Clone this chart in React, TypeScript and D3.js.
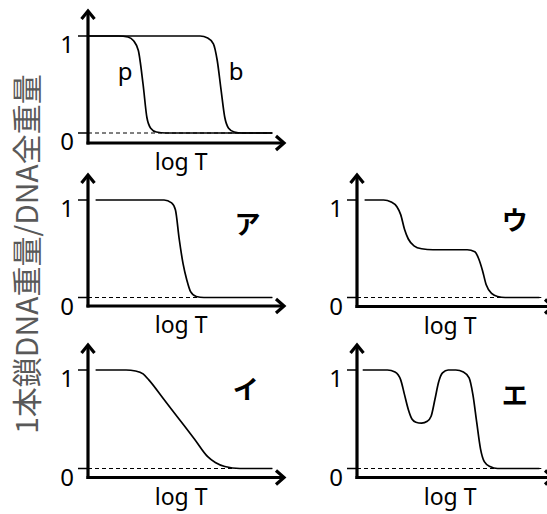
import React from 'react';
import * as d3 from 'd3';

const yTickValues = [0, 1];
const yTickLabels = ['0', '1'];
const xAxisLabel = 'log T';
const yAxisLabel = '1本鎖DNA重量/DNA全重量';
const panelTags = ['', 'ア', 'イ', 'ウ', 'エ'];
const curveNames = ['p', 'b'];

// points: [log T on the drawn axis (0-100), fraction of single strand DNA]
const curveP: [number, number][] = [
  [0, 1], [16, 1], [21, 0.99], [24, 0.95], [26.5, 0.85], [29, 0.5], [31, 0.16],
  [33, 0.05], [36, 0.01], [41, 0], [97, 0],
];
const curveB: [number, number][] = [
  [0, 1], [59, 1], [63, 0.98], [66, 0.92], [68, 0.75], [70, 0.45], [72, 0.16],
  [74, 0.05], [77, 0.01], [81, 0], [97, 0],
];
const curveA: [number, number][] = [
  [4, 1], [40, 1], [44, 0.97], [46, 0.9], [48, 0.6], [50, 0.35], [52, 0.18],
  [54, 0.06], [57, 0.01], [61, 0], [97, 0],
];
const curveI: [number, number][] = [
  [4, 1], [20, 1], [25, 0.99], [29, 0.96], [32, 0.9], [40, 0.7], [48, 0.5],
  [56, 0.3], [63, 0.12], [67, 0.06], [72, 0.02], [80, 0], [97, 0],
];
const curveU: [number, number][] = [
  [4, 1], [14, 1], [18, 0.98], [21, 0.93], [23, 0.85], [25, 0.7], [27, 0.6],
  [30, 0.53], [34, 0.5], [40, 0.49], [58, 0.49], [62, 0.47], [64, 0.4],
  [66, 0.28], [68, 0.13], [71, 0.04], [74, 0.01], [78, 0], [96, 0],
];
const curveE: [number, number][] = [
  [3, 1], [16, 1], [20, 0.98], [23, 0.9], [25, 0.75], [27, 0.6], [29, 0.5],
  [31, 0.47], [34, 0.46], [37, 0.48], [39, 0.53], [41, 0.7], [43, 0.88],
  [45, 0.97], [48, 1], [52, 1], [56, 0.98], [59, 0.92], [61, 0.75], [63, 0.47],
  [65, 0.2], [67, 0.07], [70, 0.02], [74, 0], [96, 0],
];

const width = 547, height = 514;

// layout of the five small plots
const panels = [
  { ax: 88, y0: 133, y1: 36, axisY: 143, curves: [curveP, curveB], tag: panelTags[0], tagAt: [0, 0] },
  { ax: 88, y0: 297.5, y1: 200, axisY: 306, curves: [curveA], tag: panelTags[1], tagAt: [84, 0.77] },
  { ax: 357, y0: 297.5, y1: 200, axisY: 306.5, curves: [curveU], tag: panelTags[3], tagAt: [83, 0.81] },
  { ax: 88, y0: 468.5, y1: 370, axisY: 477.5, curves: [curveI], tag: panelTags[2], tagAt: [83, 0.82] },
  { ax: 357, y0: 468.5, y1: 370, axisY: 477.5, curves: [curveE], tag: panelTags[4], tagAt: [83, 0.76] },
];

const font = "'Noto Sans', 'Open Sans', sans-serif";
const jpFont = "'Noto Sans CJK JP', sans-serif";

function Panel({ p, i }: { p: typeof panels[number]; i: number }) {
  const x = d3.scaleLinear().domain([0, 100]).range([p.ax, p.ax + 190]);
  const y = d3.scaleLinear().domain([0, 1]).range([p.y0, p.y1]);
  const line = d3.line<[number, number]>()
    .x(d => x(d[0]))
    .y(d => y(d[1]))
    .curve(d3.curveMonotoneX);

  const topTip = p.y1 - 26;
  const rightTip = p.ax + 197;

  return (
    <g>
      <line x1={x(0)} x2={x(97)} y1={y(0)} y2={y(0)} stroke="#000" strokeWidth={1} strokeDasharray="4,3" />
      {yTickValues.map((v, k) => (
        <g key={k}>
          <line x1={p.ax - 10} x2={p.ax} y1={y(v)} y2={y(v)} stroke="#000" strokeWidth={1.5} />
          <text x={p.ax - 21} y={y(v) + 11} textAnchor="middle" dominantBaseline="middle"
            fontFamily={font} fontSize={24}>{yTickLabels[k]}</text>
        </g>
      ))}
      {p.curves.map((c, k) => (
        <path key={k} d={line(c) || ''} fill="none" stroke="#000" strokeWidth={1.7} />
      ))}
      <line x1={p.ax} x2={p.ax} y1={p.axisY + 1.5} y2={topTip + 1} stroke="#000" strokeWidth={3.2} />
      <line x1={p.ax - 1.5} x2={rightTip - 1} y1={p.axisY} y2={p.axisY} stroke="#000" strokeWidth={3.2} />
      <polyline points={`${p.ax - 6.5},${topTip + 9} ${p.ax},${topTip + 1} ${p.ax + 6.5},${topTip + 9}`}
        fill="none" stroke="#000" strokeWidth={3.2} />
      <polyline points={`${rightTip - 9},${p.axisY - 7} ${rightTip - 1},${p.axisY} ${rightTip - 9},${p.axisY + 7}`}
        fill="none" stroke="#000" strokeWidth={3.2} />
      <text x={x(49)} y={p.axisY + 27} textAnchor="middle" fontFamily={font} fontSize={23}>{xAxisLabel}</text>
      {i === 0 ? (
        <>
          <text x={x(19.5)} y={y(0.55)} textAnchor="middle" fontFamily={font} fontSize={24}>{curveNames[0]}</text>
          <text x={x(78)} y={y(0.55)} textAnchor="middle" fontFamily={font} fontSize={24}>{curveNames[1]}</text>
        </>
      ) : (
        <text x={x(p.tagAt[0])} y={y(p.tagAt[1])} textAnchor="middle" dominantBaseline="central"
          fontFamily={jpFont} fontWeight={700} fontSize={26}>{p.tag}</text>
      )}
    </g>
  );
}

export default function App() {
  return (
    <svg width={width} height={height} style={{ position: 'absolute', left: 0, top: 0, background: '#fff' }}>
      <text transform="translate(25,254) rotate(-90)" textAnchor="middle" dominantBaseline="central"
        fontFamily={jpFont} fontSize={30} fill="#595959">{yAxisLabel}</text>
      {panels.map((p, i) => <Panel key={i} p={p} i={i} />)}
    </svg>
  );
}
